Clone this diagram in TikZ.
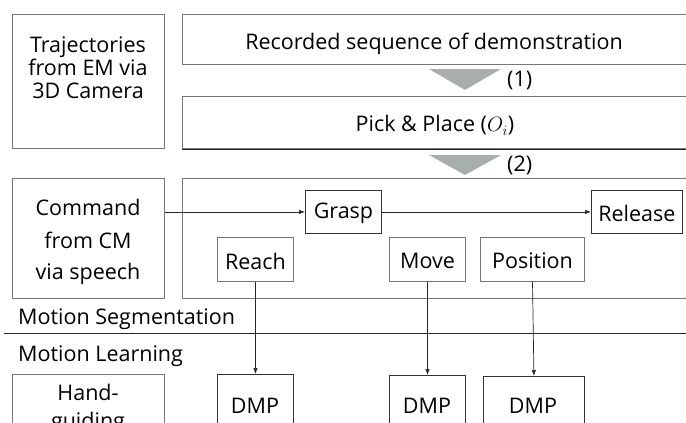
\documentclass[tikz,border=0pt]{standalone}
\usepackage{fontspec}
\setmainfont{Open Sans}
\usetikzlibrary{arrows.meta}
\definecolor{boxgray}{RGB}{118,118,118}
\definecolor{trigray}{RGB}{168,174,174}
\tikzset{
  box/.style={draw=boxgray, line width=1pt, inner sep=0pt, anchor=north west},
  dbox/.style={draw=black!80, line width=0.9pt, inner sep=0pt, anchor=north west},
  lbl/.style={font=\fontsize{21.5}{23}\selectfont, inner sep=0pt, align=center, yshift=-1.5pt},
  arr/.style={draw=black!85, line width=0.7pt, -{Latex[length=6pt,width=4.5pt]}},
  tri/.style={fill=trigray, draw=none},
}
\begin{document}
\begin{tikzpicture}[x=1pt,y=-1pt]
\useasboundingbox (0,0) rectangle (686,423);
\clip (0,0) rectangle (686,423);
\fill[white] (0,0) rectangle (686,423);
% top left box
\node[box, minimum width=152pt, minimum height=134pt] (traj) at (12,14) {};
\node[lbl] (trajt) at (88,66) {Trajectories\\from EM via\\3D Camera};
% recorded
\node[box, minimum width=506pt, minimum height=50pt] (rec) at (182,14) {};
\node[lbl] (rect) at (434,42) {Recorded sequence of demonstration};
% triangle 1
\fill[tri] (429,69) -- (501,69) -- (465,90) -- cycle;
\node[lbl, anchor=west] (t1) at (507,79) {(1)};
% pick & place
\node[box, minimum width=506pt, minimum height=52pt] (pp) at (182,96) {};
\draw[black!85, line width=0.9pt] (pp.south west) -- (pp.south east);
\node[lbl] (ppt) at (435,124) {Pick \& Place ($O_i$)};
% triangle 2
\fill[tri] (429,155) -- (501,155) -- (465,175) -- cycle;
\node[lbl, anchor=west] (t2) at (507,164) {(2)};
% command box
\node[box, minimum width=152pt, minimum height=120pt] (cmd) at (12,178) {};
\node[lbl] (cmd1) at (88,206) {Command};
\node[lbl] (cmd2) at (88,239) {from CM};
\node[lbl] (cmd3) at (88,272) {via speech};
% big segmentation box
\node[box, minimum width=506pt, minimum height=120pt] (seg) at (182,178) {};
% small boxes
\node[dbox, minimum width=76pt, minimum height=43pt] (grasp) at (305,190) {};
\node[lbl] at (grasp.center) {Grasp};
\node[dbox, minimum width=91pt, minimum height=43pt] (release) at (591,190) {};
\node[lbl] at (release.center) {Release};
\node[box, minimum width=76pt, minimum height=44pt] (reach) at (217,237) {};
\node[lbl] at (reach.center) {Reach};
\node[box, minimum width=76pt, minimum height=44pt] (move) at (389,237) {};
\node[lbl] at (move.center) {Move};
\node[box, minimum width=104pt, minimum height=44pt] (pos) at (480,237) {};
\node[lbl] at (pos.center) {Position};
% arrows in segmentation
\draw[arr] (cmd.east |- grasp.west) -- (grasp.west);
\draw[arr] (grasp.east) -- (release.west);
% section labels
\node[lbl, anchor=west] (mseg) at (18,318) {Motion Segmentation};
\coordinate (lineL) at (4,333);
\coordinate (lineR) at (690,333);
\draw[black!85, line width=0.9pt] (lineL) -- (lineR);
\node[lbl, anchor=west] (mlearn) at (18,355) {Motion Learning};
% bottom boxes
\node[box, minimum width=152pt, minimum height=80pt] (hand) at (12,374) {};
\node[lbl] (hand1) at (88,391) {Hand-};
\node[lbl] (hand2) at (88,421) {guiding};
\node[dbox, minimum width=76pt, minimum height=70pt] (dmp1) at (217,374) {};
\node[lbl] at (217+38,404) {DMP};
\node[dbox, minimum width=76pt, minimum height=70pt] (dmp2) at (389,375) {};
\node[lbl] at (389+38,404) {DMP};
\node[dbox, minimum width=101pt, minimum height=70pt] (dmp3) at (483,376) {};
\node[lbl] at (483+50,404) {DMP};
% arrows down
\draw[arr] (reach.south) -- (reach.south |- dmp1.north);
\draw[arr] (move.south) -- (move.south |- dmp2.north);
\draw[arr] (pos.south) -- (dmp3.north);
\end{tikzpicture}
\end{document}
